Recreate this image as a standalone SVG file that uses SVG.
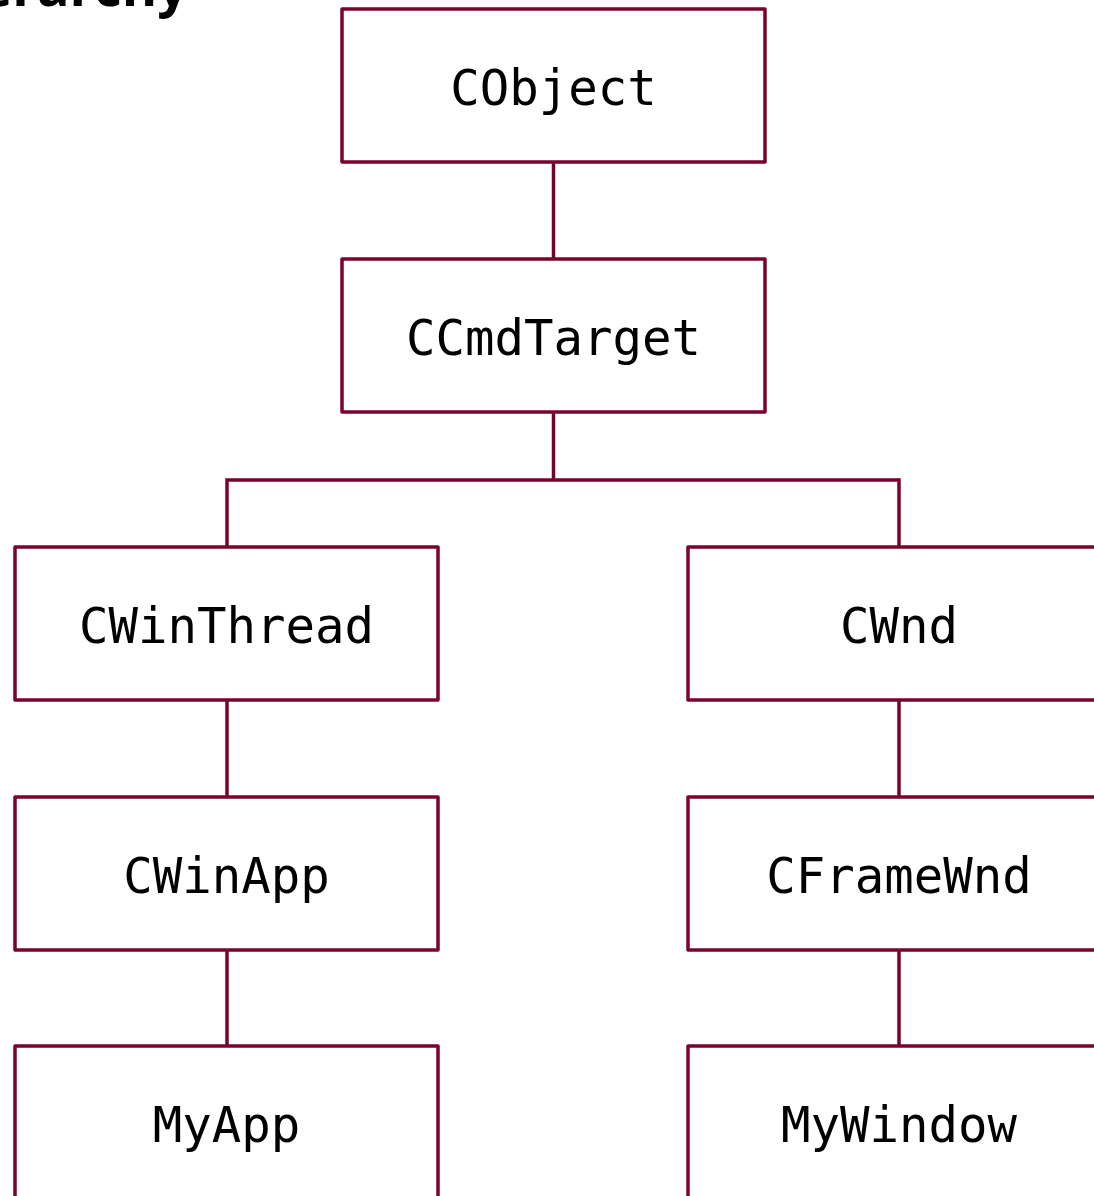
<svg xmlns="http://www.w3.org/2000/svg" width="1094" height="1196" viewBox="0 0 1094 1196">
<style>
.box{fill:#ffffff;stroke:#7a0429;stroke-width:3.5;stroke-linejoin:round}
.lbl{font-family:"DejaVu Sans Mono","Liberation Mono",monospace;font-size:49px;fill:#000;text-anchor:middle}
.conn{fill:none;stroke:#7a0429;stroke-width:3.5}
.title{font-family:"Open Sans","Noto Sans",sans-serif;font-weight:bold;font-size:54px;fill:#000;text-anchor:end}
</style>
<rect width="1094" height="1196" fill="#ffffff"/>
<text class="title" x="188" y="6">Hierarchy</text>
<g id="connectors">
<path class="conn" d="M553.5 162 V259"/>
<path class="conn" d="M553.5 412 V480"/>
<path class="conn" d="M227 547 V480 H899 V547"/>
<path class="conn" d="M227 700 V797"/>
<path class="conn" d="M227 950 V1046"/>
<path class="conn" d="M899 700 V797"/>
<path class="conn" d="M899 950 V1046"/>
</g>
<g id="CObject"><rect class="box" x="342" y="9" width="423" height="153"/><text class="lbl" x="553.5" y="105">CObject</text></g>
<g id="CCmdTarget"><rect class="box" x="342" y="259" width="423" height="153"/><text class="lbl" x="553.5" y="355">CCmdTarget</text></g>
<g id="CWinThread"><rect class="box" x="15" y="547" width="423" height="153"/><text class="lbl" x="226.5" y="643">CWinThread</text></g>
<g id="CWnd"><rect class="box" x="688" y="547" width="423" height="153"/><text class="lbl" x="899" y="643">CWnd</text></g>
<g id="CWinApp"><rect class="box" x="15" y="797" width="423" height="153"/><text class="lbl" x="226.5" y="893">CWinApp</text></g>
<g id="CFrameWnd"><rect class="box" x="688" y="797" width="423" height="153"/><text class="lbl" x="899" y="893">CFrameWnd</text></g>
<g id="MyApp"><rect class="box" x="15" y="1046" width="423" height="160"/><text class="lbl" x="226.5" y="1142">MyApp</text></g>
<g id="MyWindow"><rect class="box" x="688" y="1046" width="423" height="160"/><text class="lbl" x="899" y="1142">MyWindow</text></g>
</svg>
